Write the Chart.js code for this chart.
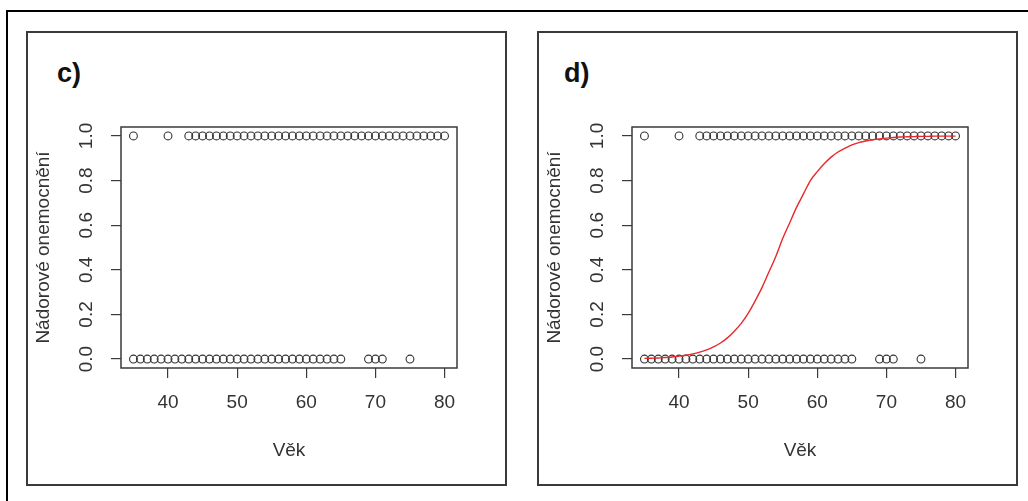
<!DOCTYPE html>
<html>
<head>
<meta charset="utf-8">
<script src="https://cdn.jsdelivr.net/npm/chart.js@4.4.1/dist/chart.umd.min.js"></script>
<style>
  html, body { margin: 0; padding: 0; background: #fff; }
  body { width: 1028px; height: 501px; position: relative; overflow: hidden; font-family: "Liberation Sans", Arial, sans-serif; }
  .outer { position: absolute; left: 6px; top: 10px; width: 1100px; height: 600px; border-top: 2px solid #000; border-left: 2px solid #000; }
  .panel { position: absolute; top: 31px; width: 477px; height: 451px; border: 2px solid #3a3a3a; }
  .lab { position: absolute; top: 60px; font: bold 27px/27px "Liberation Sans", Arial, sans-serif; color: #111; }
  canvas { position: absolute; }
</style>
</head>
<body>
<div class="outer"></div>
<div class="panel" style="left:26px"></div>
<div class="panel" style="left:537px"></div>
<div class="lab" style="left:57px">c)</div>
<div class="lab" style="left:564px">d)</div>
<canvas id="cc" width="477" height="451" style="left:28px;top:33px;width:477px;height:451px"></canvas>
<canvas id="cd" width="477" height="451" style="left:539px;top:33px;width:477px;height:451px"></canvas>
<script>
// ---- data ----
const agesTumor = [35, 40, 43, 44, 45, 46, 47, 48, 49, 50, 51, 52, 53, 54, 55, 56, 57, 58, 59, 60, 61, 62, 63, 64, 65, 66, 67, 68, 69, 70, 71, 72, 73, 74, 75, 76, 77, 78, 79, 80];
const agesNoTumor = [35, 36, 37, 38, 39, 40, 41, 42, 43, 44, 45, 46, 47, 48, 49, 50, 51, 52, 53, 54, 55, 56, 57, 58, 59, 60, 61, 62, 63, 64, 65, 69, 70, 71, 75];
const curveAges = [35, 36, 37, 38, 39, 40, 41, 42, 43, 44, 45, 46, 47, 48, 49, 50, 51, 52, 53, 54, 55, 56, 57, 58, 59, 60, 61, 62, 63, 64, 65, 66, 67, 68, 69, 70, 71, 72, 73, 74, 75, 76, 77, 78, 79, 80];
const curveProb = [0.003, 0.004, 0.005, 0.007, 0.009, 0.013, 0.017, 0.023, 0.031, 0.041, 0.055, 0.072, 0.095, 0.125, 0.16, 0.205, 0.26, 0.32, 0.39, 0.46, 0.54, 0.61, 0.68, 0.74, 0.80, 0.84, 0.875, 0.905, 0.928, 0.945, 0.96, 0.97, 0.977, 0.983, 0.987, 0.99, 0.993, 0.995, 0.996, 0.997, 0.998, 0.998, 0.999, 0.999, 0.999, 0.999];
const xTickValues = [40, 50, 60, 70, 80];
const yTickValues = [0, 0.2, 0.4, 0.6, 0.8, 1.0];
const xTitle = "Věk";
const yTitle = "Nádorové onemocnění";

const FONT = { family: "'Liberation Sans', Arial, sans-serif", size: 19 };
const AXIS = '#3a3a3a';

const boxPlugin = {
  id: 'box',
  afterDraw(chart) {
    const a = chart.chartArea, ctx = chart.ctx;
    ctx.save();
    ctx.strokeStyle = AXIS;
    ctx.lineWidth = 1.5;
    ctx.strokeRect(a.left, a.top, a.right - a.left, a.bottom - a.top);
    ctx.restore();
  }
};

function pts(xs, y) { return xs.map(x => ({ x: x, y: y })); }

function makeChart(id, withCurve) {
  const datasets = [];
  if (withCurve) {
    datasets.push({
      label: 'model',
      data: curveAges.map((x, i) => ({ x: x, y: curveProb[i] })),
      showLine: true,
      borderColor: '#e8282b',
      borderWidth: 1.4,
      pointRadius: 0,
      tension: 0.4,
      cubicInterpolationMode: 'monotone'
    });
  }
  datasets.push({
    label: '1',
    data: pts(agesTumor, 1).concat(pts(agesNoTumor, 0)),
    pointStyle: 'circle',
    pointRadius: 3.9,
    pointBorderWidth: 1.1,
    borderColor: '#333',
    backgroundColor: 'rgba(0,0,0,0)',
    pointBackgroundColor: 'rgba(0,0,0,0)',
    showLine: false
  });
  return new Chart(document.getElementById(id), {
    type: 'scatter',
    data: { datasets },
    plugins: [boxPlugin],
    options: {
      responsive: false,
      animation: false,
      devicePixelRatio: 1,
      layout: { padding: { left: 0, top: 94, right: 48, bottom: 0 } },
      plugins: { legend: { display: false }, tooltip: { enabled: false } },
      scales: {
        x: {
          type: 'linear',
          min: 33.2, max: 81.8,
          afterFit(s) { s.height = 116; },
          afterBuildTicks(s) { s.ticks = xTickValues.map(v => ({ value: v })); },
          grid: { display: true, drawOnChartArea: false, drawTicks: true, tickLength: 10, color: AXIS, lineWidth: 1.2 },
          border: { display: false },
          ticks: { color: '#333', font: FONT, padding: 13, maxRotation: 0, autoSkip: false, callback: v => String(v) },
          title: { display: true, text: xTitle, color: '#333', font: FONT, padding: { top: 0, bottom: 22 } }
        },
        y: {
          type: 'linear',
          min: -0.04, max: 1.04,
          afterFit(s) { s.width = 93; },
          afterBuildTicks(s) { s.ticks = yTickValues.map(v => ({ value: v })); },
          grid: { display: true, drawOnChartArea: false, drawTicks: true, tickLength: 10, color: AXIS, lineWidth: 1.2 },
          border: { display: false },
          ticks: { color: '#333', font: FONT, padding: 11, minRotation: 90, maxRotation: 90, crossAlign: 'center', autoSkip: false, callback: v => Number(v).toFixed(1) },
          title: { display: true, text: yTitle, color: '#333', font: FONT, padding: { top: 4, bottom: 0 } }
        }
      }
    }
  });
}

makeChart('cc', false);
makeChart('cd', true);
</script>
</body>
</html>
